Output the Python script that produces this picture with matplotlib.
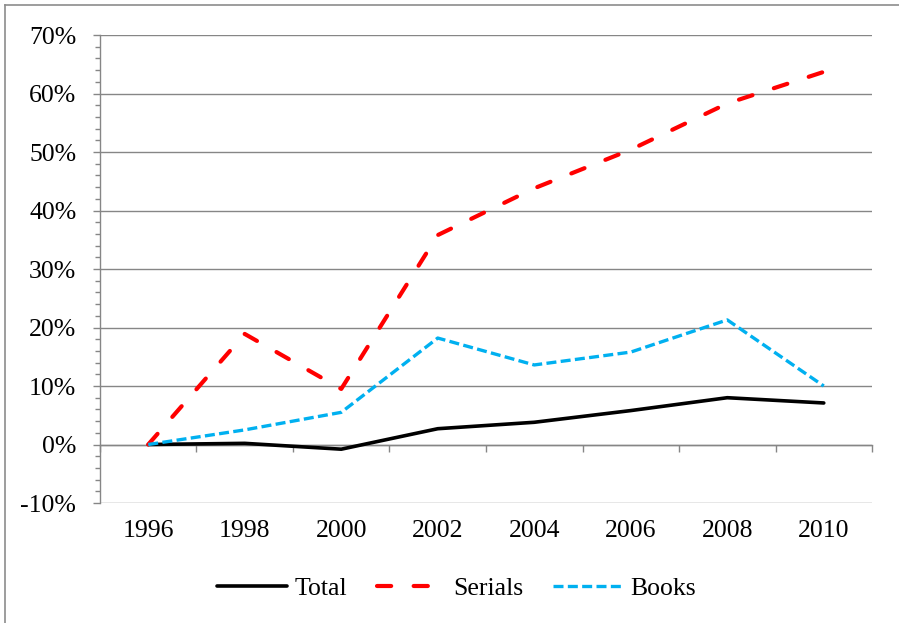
import matplotlib.pyplot as plt
from matplotlib.lines import Line2D
from matplotlib.ticker import FuncFormatter, MultipleLocator
import numpy as np

# change since 1996, in percent
years = ['1996', '1998', '2000', '2002', '2004', '2006', '2008', '2010']
total = [0.0, 0.2, -0.8, 2.7, 3.8, 5.8, 8.0, 7.1]
serials = [0.0, 18.9, 9.5, 35.8, 43.8, 50.4, 58.3, 63.7]
books = [0.0, 2.5, 5.5, 18.2, 13.6, 15.8, 21.3, 10.0]

plt.rcParams['font.family'] = ['Liberation Serif', 'DejaVu Serif']
grid_col = '#868686'

fig = plt.figure(figsize=(8.99, 6.23), dpi=100)
ax = fig.add_axes([0.1112, 0.1926, 0.970 - 0.1112, 0.9438 - 0.1926])

x = np.arange(len(years))
ax.plot(x, total, color='black', lw=2.6, solid_capstyle='round', label='Total')
ax.plot(x, serials, color='#ff0000', lw=3.0, dashes=(3.4, 5.4), dash_capstyle='round',
        label='Serials')
ax.plot(x, books, color='#00b0f0', lw=2.4, dashes=(3.0, 1.3), dash_capstyle='butt',
        label='Books')

ax.set_xlim(-0.5, len(years) - 0.5)
ax.set_ylim(-10, 70)
ax.yaxis.set_major_locator(MultipleLocator(10))
ax.yaxis.set_minor_locator(MultipleLocator(2))
ax.yaxis.set_major_formatter(FuncFormatter(lambda v, p: f'{v:.0f}%'))
ax.grid(axis='y', color=grid_col, lw=1.0)
ax.set_axisbelow(True)

ax.set_xticks(x)
ax.set_xticklabels(years)
ax.tick_params(axis='x', length=0, pad=12, labelsize=18.5)
ax.tick_params(axis='y', which='major', length=5, color=grid_col, width=1.0,
               pad=12, labelsize=18.5)
ax.tick_params(axis='y', which='minor', length=3.5, color=grid_col, width=1.0)

for s in ['top', 'right', 'bottom']:
    ax.spines[s].set_visible(False)
ax.spines['left'].set_color(grid_col)
ax.spines['left'].set_linewidth(1.0)

# category axis crossing at 0%, tick marks between categories
zero = (0 - ax.get_ylim()[0]) / (ax.get_ylim()[1] - ax.get_ylim()[0])
sec = ax.secondary_xaxis(zero)
sec.set_xticks(np.arange(len(years) + 1) - 0.5)
sec.set_xticklabels([])
sec.tick_params(axis='x', direction='out', length=5, color=grid_col, width=1.0)
sec.spines['bottom'].set_color(grid_col)
sec.spines['bottom'].set_linewidth(1.0)

fig.legend(loc='center', bbox_to_anchor=(0.508, 0.056), ncol=3, frameon=False,
           fontsize=18.5, handlelength=2.7, handletextpad=0.3, columnspacing=1.15)

# chart frame
fig.add_artist(Line2D([5 / 899, 5 / 899], [0, 1 - 5 / 623], transform=fig.transFigure,
                      color='#8c8c8c', lw=1.2))
fig.add_artist(Line2D([5 / 899, 1], [1 - 5 / 623, 1 - 5 / 623], transform=fig.transFigure,
                      color='#8c8c8c', lw=1.2))

fig.savefig('out.png', dpi=100)
